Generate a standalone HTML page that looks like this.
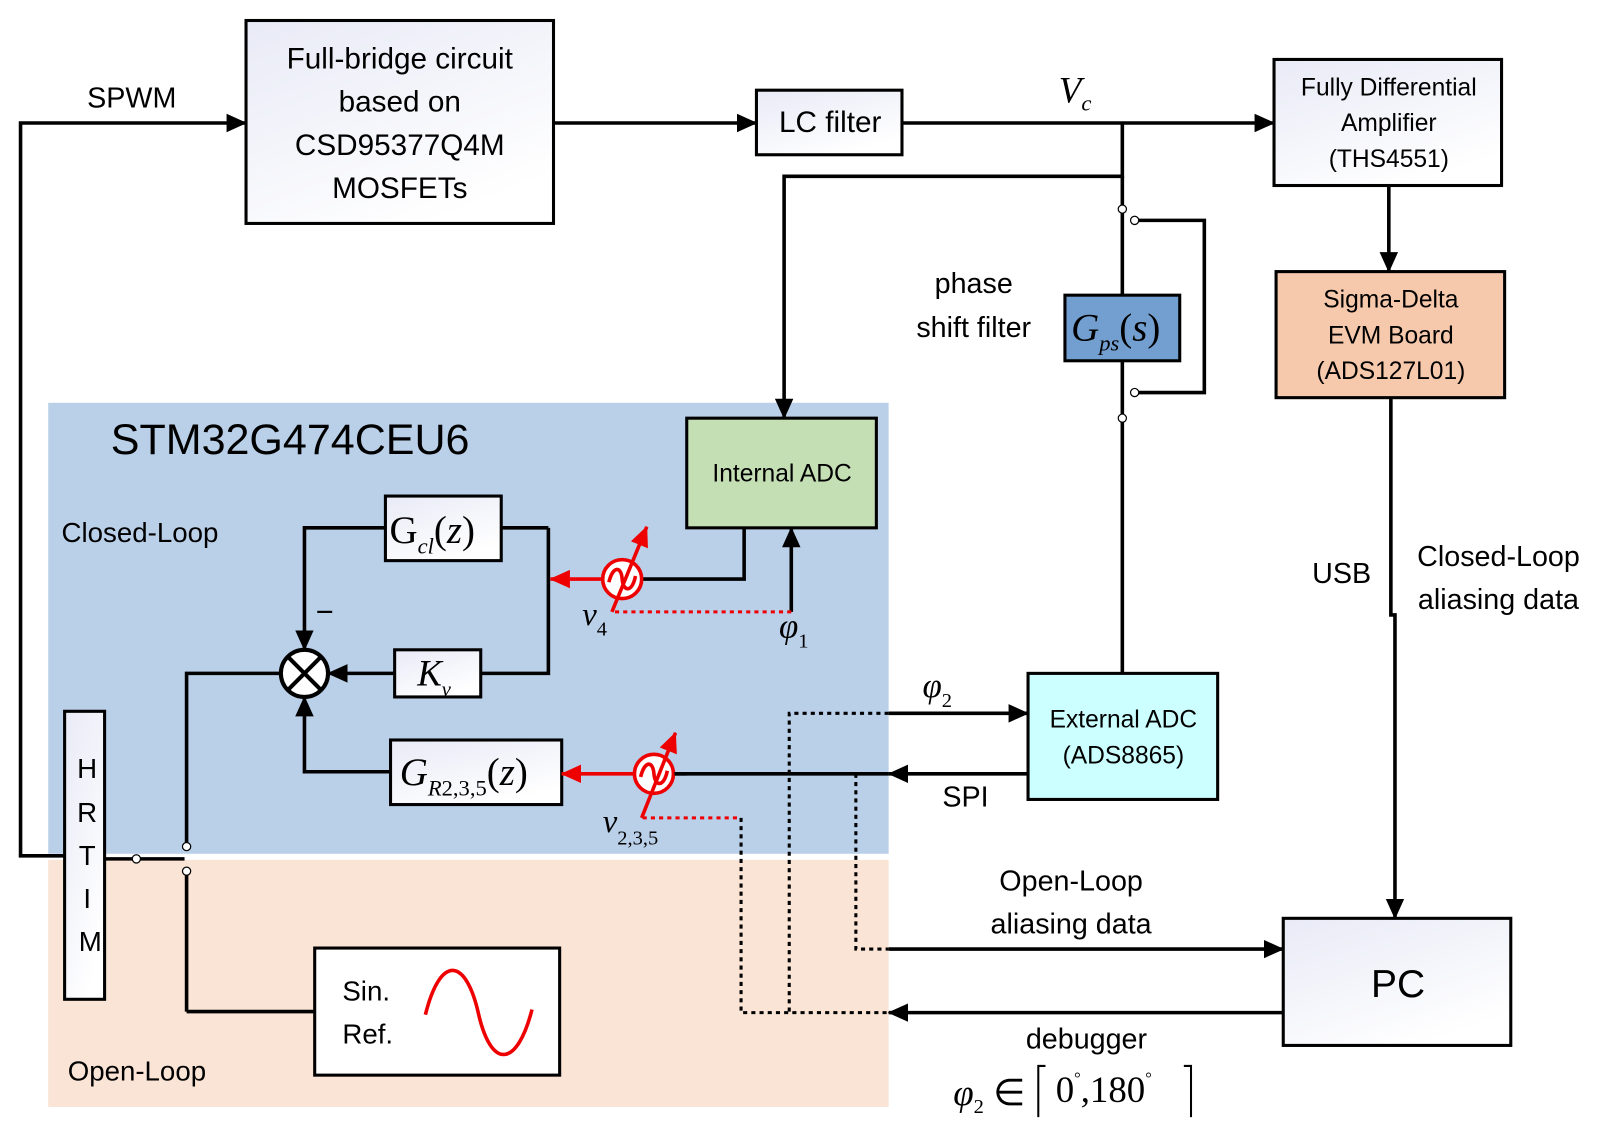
<!DOCTYPE html>
<html><head><meta charset="utf-8"><style>
html,body{margin:0;padding:0;background:#fff;overflow:hidden;width:1600px;height:1131px}
svg{display:block}
text{font-family:"Liberation Sans",sans-serif;fill:#000}
.m{font-family:"Liberation Serif",serif;font-style:italic}
.r{font-family:"Liberation Serif",serif}
</style></head><body>
<svg width="1600" height="1131" viewBox="0 0 1561 1103.5" xmlns="http://www.w3.org/2000/svg">
<defs>
<marker id="ab" markerWidth="20" markerHeight="20" refX="19" refY="10" orient="auto" markerUnits="userSpaceOnUse" viewBox="0 0 20 20"><path d="M0,1 L20,10 L0,19z" fill="#000"/></marker>
<marker id="ar" markerWidth="20" markerHeight="20" refX="19" refY="10" orient="auto" markerUnits="userSpaceOnUse" viewBox="0 0 20 20"><path d="M0,1 L20,10 L0,19z" fill="#e00"/></marker>
<linearGradient id="g" x1="0" y1="0" x2="0.6" y2="1"><stop offset="0" stop-color="#e8eaf6"/><stop offset="1" stop-color="#fff"/></linearGradient>
</defs>
<rect x="47" y="393" width="820" height="440" fill="#BACFE8"/>
<rect x="47" y="839" width="820" height="241" fill="#F9E4D5"/>

<g stroke="#000" stroke-width="3.5" fill="none">
<polyline points="63,835 20,835 20,120 240,120" marker-end="url(#ab)"/>
<line x1="540" y1="120" x2="738" y2="120" marker-end="url(#ab)"/>
<line x1="880" y1="120" x2="1243" y2="120" marker-end="url(#ab)"/>
<line x1="1355" y1="181" x2="1355" y2="265" marker-end="url(#ab)"/>
<polyline points="1357,388 1357,600 1361,600 1361,896" marker-end="url(#ab)"/>
<polyline points="1095,120 1095,172 765,172 765,408" marker-end="url(#ab)"/>
<line x1="1095" y1="172" x2="1095" y2="200"/>
<line x1="1095" y1="208" x2="1095" y2="288"/>
<line x1="1095" y1="352" x2="1095" y2="404"/>
<line x1="1095" y1="412" x2="1095" y2="657"/>
<polyline points="1111,215 1175,215 1175,383 1111,383"/>
<polyline points="726,515 726,565 626,565"/>
<line x1="772" y1="597" x2="772" y2="515" marker-end="url(#ab)"/>
<polyline points="535,515 535,657 469,657"/>
<line x1="489" y1="515" x2="535" y2="515"/>
<polyline points="376,515 297,515 297,634" marker-end="url(#ab)"/>
<line x1="385" y1="657" x2="320" y2="657" marker-end="url(#ab)"/>
<polyline points="381,753 297,753 297,680" marker-end="url(#ab)"/>
<polyline points="182,822 182,657 274,657"/>
<line x1="1003" y1="755" x2="867" y2="755" marker-end="url(#ab)"/>
<line x1="867" y1="755" x2="658" y2="755"/>
<line x1="867" y1="696" x2="1003" y2="696" marker-end="url(#ab)"/>
<line x1="867" y1="926" x2="1252" y2="926" marker-end="url(#ab)"/>
<line x1="1252" y1="988" x2="867" y2="988" marker-end="url(#ab)"/>
<line x1="102" y1="838" x2="180" y2="838"/>
<line x1="182" y1="853" x2="182" y2="987"/>
<line x1="182" y1="987" x2="307" y2="987"/>
</g>
<g stroke="#000" stroke-width="3" fill="none" stroke-dasharray="4,4">
<polyline points="867,696 770,696 770,988"/>
<polyline points="835,755 835,926 867,926"/>
<polyline points="723,798 723,988 867,988"/>
</g>
<g stroke="#e00" stroke-width="3" fill="none" stroke-dasharray="4,4">
<line x1="600" y1="597" x2="772" y2="597"/>
<line x1="627" y1="798" x2="723" y2="798"/>
</g>
<g fill="#fff" stroke="#000" stroke-width="1.2">
<circle cx="1095" cy="204" r="4"/><circle cx="1107" cy="215" r="4"/>
<circle cx="1107" cy="383" r="4"/><circle cx="1095" cy="408" r="4"/>
<circle cx="133" cy="838" r="4"/><circle cx="182" cy="826" r="4"/><circle cx="182" cy="850" r="4"/>
</g>

<g stroke="#000" stroke-width="3">
<rect x="240" y="20" width="300" height="198" fill="url(#g)"/>
<rect x="738" y="88" width="142" height="63" fill="url(#g)"/>
<rect x="1243" y="58" width="222" height="123" fill="url(#g)"/>
<rect x="1245" y="265" width="223" height="123" fill="#F7C9AC"/>
<rect x="1252" y="896" width="222" height="124" fill="url(#g)"/>
<rect x="1039" y="288" width="112" height="64" fill="#729FCF"/>
<rect x="670" y="408" width="185" height="107" fill="#C5DFB4"/>
<rect x="1003" y="657" width="185" height="123" fill="#CCFFFF"/>
<rect x="376" y="484" width="113" height="63" fill="url(#g)"/>
<rect x="385" y="634" width="84" height="46" fill="url(#g)"/>
<rect x="381" y="722" width="167" height="63" fill="url(#g)"/>
<rect x="63" y="694" width="39" height="281" fill="url(#g)"/>
<rect x="307" y="925" width="239" height="124" fill="#fff"/>
<circle cx="297" cy="657" r="23" fill="#fff" stroke-width="4"/>
</g>
<g stroke="#000" stroke-width="4"><line x1="281" y1="641" x2="313" y2="673"/><line x1="313" y1="641" x2="281" y2="673"/></g>
<path d="M415,990 C430,930 455,935 467,990 C480,1045 505,1040 519,985" stroke="#e00" stroke-width="3.5" fill="none"/>

<g stroke="#e00" stroke-width="3.5" fill="none">
<line x1="588" y1="565" x2="537" y2="565" marker-end="url(#ar)"/>
<circle cx="607" cy="565" r="19" fill="#fff"/>
<path d="M594,568 C598,552 606,552 607,565 C608,578 617,578 620,562"/>
<line x1="597" y1="597" x2="631" y2="514" marker-end="url(#ar)"/>
<line x1="619" y1="755" x2="548" y2="755" marker-end="url(#ar)"/>
<circle cx="638" cy="755" r="19" fill="#fff"/>
<path d="M625,758 C629,742 637,742 638,755 C639,768 648,768 651,752"/>
<line x1="626" y1="798" x2="659" y2="715" marker-end="url(#ar)"/>
</g>
<line x1="658" y1="755" x2="670" y2="755" stroke="#000" stroke-width="3.5"/>

<g font-size="29" text-anchor="middle">
<text x="390" y="67">Full-bridge circuit</text>
<text x="390" y="109">based on</text>
<text x="390" y="151">CSD95377Q4M</text>
<text x="390" y="193">MOSFETs</text>
<text x="810" y="129">LC filter</text>
</g>
<text x="1364" y="973" font-size="38" text-anchor="middle">PC</text>
<text x="85" y="105" font-size="28">SPWM</text>
<g font-size="24" text-anchor="middle">
<text x="1355" y="93">Fully Differential</text>
<text x="1355" y="128">Amplifier</text>
<text x="1355" y="163">(THS4551)</text>
<text x="1357" y="300">Sigma-Delta</text>
<text x="1357" y="335">EVM Board</text>
<text x="1357" y="370">(ADS127L01)</text>
<text x="763" y="470">Internal ADC</text>
<text x="1096" y="710">External ADC</text>
<text x="1096" y="745">(ADS8865)</text>
</g>
<g font-size="28" text-anchor="middle">
<text x="950" y="286">phase</text>
<text x="950" y="329">shift filter</text>
<text x="1309" y="569">USB</text>
<text x="1462" y="552">Closed-Loop</text>
<text x="1462" y="594">aliasing data</text>
<text x="1045" y="869">Open-Loop</text>
<text x="1045" y="911">aliasing data</text>
<text x="1060" y="1023">debugger</text>
<text x="942" y="787">SPI</text>
</g>
<text x="108" y="443" font-size="42">STM32G474CEU6</text>
<text x="60" y="529" font-size="27">Closed-Loop</text>
<text x="66" y="1054" font-size="27">Open-Loop</text>
<text x="334" y="976" font-size="27">Sin.</text>
<text x="334" y="1018" font-size="27">Ref.</text>
<g font-size="27" text-anchor="middle">
<text x="85" y="759">H</text><text x="85" y="802">R</text><text x="85" y="844">T</text><text x="85" y="886">I</text><text x="88" y="928">M</text>
</g>
<text x="308" y="607" font-size="30">−</text>
<text x="1033" y="100" class="m" font-size="36">V<tspan font-size="22" dy="8">c</tspan></text>
<text x="1045" y="332" class="m" font-size="38">G<tspan font-size="22" dy="10">ps</tspan><tspan class="r" font-style="normal" dy="-10">(</tspan>s<tspan class="r" font-style="normal">)</tspan></text>
<text x="380" y="530" class="r" font-size="38">G<tspan class="m" font-size="22" dy="10">cl</tspan><tspan dy="-10">(</tspan><tspan class="m">z</tspan>)</text>
<text x="407" y="669" class="m" font-size="36">K<tspan font-size="20" dy="10">v</tspan></text>
<text x="390" y="766" class="m" font-size="38">G<tspan font-size="22" dy="10">R</tspan><tspan class="r" font-style="normal" font-size="22">2,3,5</tspan><tspan class="r" font-style="normal" dy="-10">(</tspan>z<tspan class="r" font-style="normal">)</tspan></text>
<text x="568" y="610" class="m" font-size="32">v<tspan class="r" font-style="normal" font-size="20" dy="10">4</tspan></text>
<text x="588" y="812" class="m" font-size="32">v<tspan class="r" font-style="normal" font-size="20" dy="12">2,3,5</tspan></text>
<text x="760" y="622" class="m" font-size="34">φ<tspan class="r" font-style="normal" font-size="20" dy="10">1</tspan></text>
<text x="900" y="680" class="m" font-size="34">φ<tspan class="r" font-style="normal" font-size="20" dy="10">2</tspan></text>
<text x="930" y="1078" class="m" font-size="36">φ<tspan class="r" font-style="normal" font-size="20" dy="8">2</tspan><tspan class="r" font-style="normal" dy="-8"> ∈ </tspan></text>
<text x="1030" y="1075" class="r" font-size="36">0<tspan font-size="16" dy="-18">°</tspan><tspan dy="18">,180</tspan><tspan font-size="16" dy="-18">°</tspan></text>
<g stroke="#000" stroke-width="2" fill="none">
<polyline points="1020,1040 1013,1040 1013,1090"/>
<polyline points="1155,1040 1162,1040 1162,1090"/>
</g>
</svg>
</body></html>
